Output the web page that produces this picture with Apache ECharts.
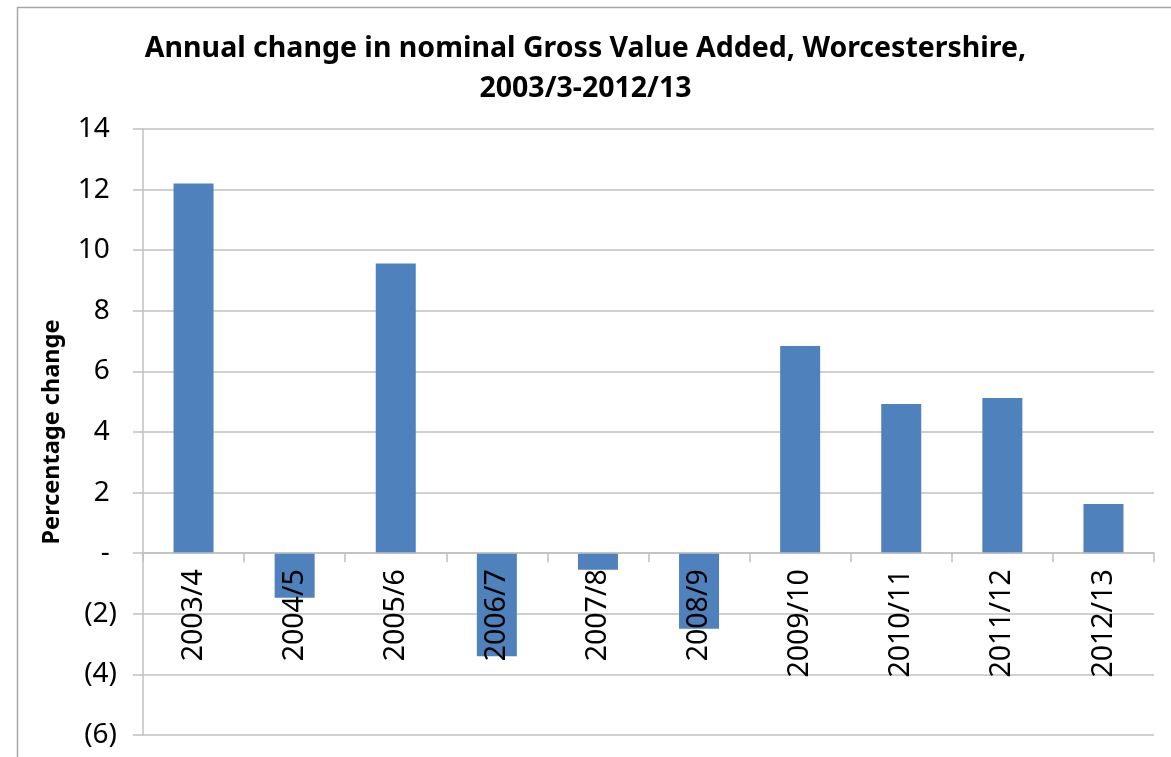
<!DOCTYPE html>
<html>
<head>
<meta charset="utf-8">
<title>Annual change in nominal GVA, Worcestershire</title>
<script src="https://cdn.jsdelivr.net/npm/echarts@6/dist/echarts.min.js"></script>
<style>
  html, body { margin: 0; padding: 0; background: #fff; }
  #chart { width: 1171px; height: 757px; }
</style>
</head>
<body>
<div id="chart"></div>
<script>
// categories (financial years)
const years = ['2003/4', '2004/5', '2005/6', '2006/7', '2007/8', '2008/9', '2009/10', '2010/11', '2011/12', '2012/13'];
// annual % change in nominal GVA
const gvaChange = [12.2, -1.47, 9.56, -3.4, -0.55, -2.49, 6.84, 4.92, 5.12, 1.62];
// y axis range
const yMin = -6;
const yMax = 14;
const yStep = 2;

const font = '"Noto Sans", "Open Sans", sans-serif';
const gridColor = '#c0c0c0';

const gridTop = 129;
const gridBottom = 22;
const gridHeight = 757 - gridTop - gridBottom;
// category axis sits on the zero line, labels just under it
const zeroOffset = -(0 - yMin) / (yMax - yMin) * gridHeight;

const chart = echarts.init(document.getElementById('chart'), null, { renderer: 'canvas' });

const option = {
  backgroundColor: '#fff',
  animation: false,
  textStyle: { fontFamily: font },
  title: {
    text: 'Annual change in nominal Gross Value Added, Worcestershire,\n2003/3-2012/13',
    left: 'center',
    top: 24,
    textStyle: {
      fontFamily: font,
      fontSize: 28.5,
      fontWeight: 'bold',
      color: '#000',
      lineHeight: 40
    }
  },
  // thin border round the whole chart, like the spreadsheet chart area
  graphic: [
    {
      type: 'rect',
      left: 15,
      top: 5,
      shape: { width: 1155, height: 800 },
      style: { fill: 'none', stroke: '#a6a6a6', lineWidth: 1.5 },
      silent: true
    }
  ],
  grid: {
    left: 143,
    right: 17,
    top: gridTop,
    bottom: gridBottom,
    outerBoundsMode: 'none'
  },
  xAxis: {
    type: 'category',
    data: years,
    position: 'bottom',
    offset: zeroOffset,
    z: 5,
    axisLine: { onZero: false, lineStyle: { color: gridColor, width: 1.5 } },
    axisTick: { show: true, length: 9, lineStyle: { color: gridColor, width: 1.5 } },
    axisLabel: {
      rotate: 90,
      margin: 16,
      interval: 0,
      fontFamily: font,
      fontSize: 28.5,
      color: '#000'
    },
    splitLine: { show: false }
  },
  yAxis: {
    type: 'value',
    min: yMin,
    max: yMax,
    interval: yStep,
    name: 'Percentage change',
    nameLocation: 'middle',
    nameRotate: 90,
    nameGap: 79,
    nameTextStyle: {
      fontFamily: font,
      fontSize: 23.5,
      fontWeight: 'bold',
      color: '#000'
    },
    axisLine: { show: true, lineStyle: { color: gridColor, width: 1.5 } },
    axisTick: { show: true, length: 10, lineStyle: { color: gridColor, width: 1.5 } },
    axisLabel: {
      margin: 26,
      fontFamily: font,
      fontSize: 28,
      color: '#000',
      // accounting style: negatives in brackets, zero as a dash
      formatter: function (v) {
        if (v < 0) return '(' + (-v) + ')';
        if (v === 0) return '- ';
        return v + ' ';
      }
    },
    splitLine: { show: true, lineStyle: { color: gridColor, width: 1.5 } }
  },
  series: [
    {
      name: 'Percentage change',
      type: 'bar',
      data: gvaChange,
      barWidth: 40,
      itemStyle: { color: '#4f81bd' }
    }
  ]
};

chart.setOption(option);
</script>
</body>
</html>
